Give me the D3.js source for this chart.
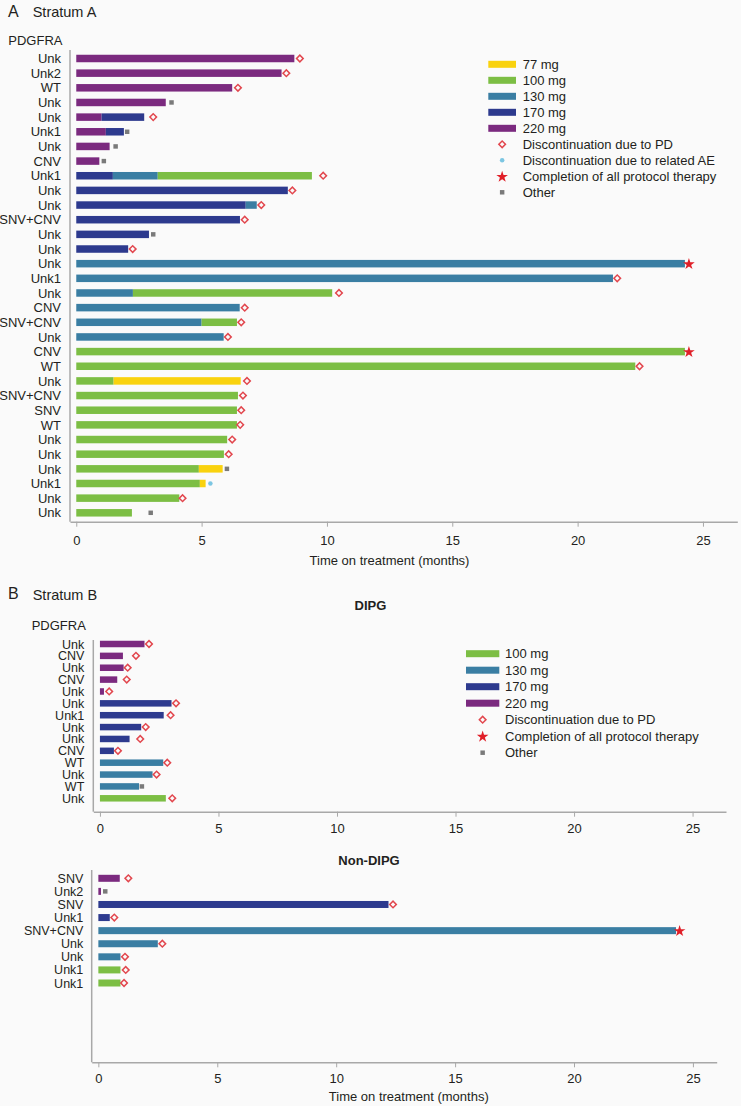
<!DOCTYPE html>
<html>
<head>
<meta charset="utf-8">
<script src="https://cdn.jsdelivr.net/npm/d3@7"></script>
<style>
  html, body { margin: 0; padding: 0; background: #fafafa; }
  svg { display: block; font-family: "Liberation Sans", Arial, Helvetica, sans-serif; }
</style>
</head>
<body>
<svg id="chart" width="741" height="1106"></svg>
<script>
// ---------------- DATA ----------------
const doseLevelsA = ["77 mg", "100 mg", "130 mg", "170 mg", "220 mg"];
const doseLevelsB = ["100 mg", "130 mg", "170 mg", "220 mg"];
const doseColors = ["#f9d20e", "#7cbe44", "#3a7ea3", "#2d3a8e", "#7b2a7f"];
const eventNamesA = ["Discontinuation due to PD", "Discontinuation due to related AE", "Completion of all protocol therapy", "Other"];
const eventNamesB = ["Discontinuation due to PD", "Completion of all protocol therapy", "Other"];
const eventKeysA = ["PD", "AE", "Complete", "Other"];
const eventKeysB = ["PD", "Complete", "Other"];
const xTicks = [0, 5, 10, 15, 20, 25];

// Stratum A: PDGFRA status per patient
const labelsA = ["Unk","Unk2","WT","Unk","Unk","Unk1","Unk","CNV","Unk1","Unk","Unk","SNV+CNV","Unk","Unk","Unk","Unk1",
                 "Unk","CNV","SNV+CNV","Unk","CNV","WT","Unk","SNV+CNV","SNV","WT","Unk","Unk","Unk","Unk1","Unk","Unk"];
// dose segments: [dose, cumulative end time (months)]
const segmentsA = [
  [["220 mg", 8.70]],
  [["220 mg", 8.19]],
  [["220 mg", 6.22]],
  [["220 mg", 3.57]],
  [["220 mg", 1.01], ["170 mg", 2.71]],
  [["220 mg", 1.18], ["170 mg", 1.90]],
  [["220 mg", 1.33]],
  [["220 mg", 0.92]],
  [["170 mg", 1.46], ["130 mg", 3.25], ["100 mg", 9.40]],
  [["170 mg", 8.44]],
  [["170 mg", 6.76], ["130 mg", 7.20]],
  [["170 mg", 6.53]],
  [["170 mg", 2.90]],
  [["170 mg", 2.07]],
  [["130 mg", 24.28]],
  [["130 mg", 21.41]],
  [["130 mg", 2.26], ["100 mg", 10.21]],
  [["130 mg", 6.52]],
  [["130 mg", 5.00], ["100 mg", 6.41]],
  [["130 mg", 5.88]],
  [["100 mg", 24.28]],
  [["100 mg", 22.30]],
  [["100 mg", 1.49], ["77 mg", 6.56]],
  [["100 mg", 6.45]],
  [["100 mg", 6.41]],
  [["100 mg", 6.41]],
  [["100 mg", 6.02]],
  [["100 mg", 5.89]],
  [["100 mg", 4.89], ["77 mg", 5.84]],
  [["100 mg", 4.93], ["77 mg", 5.16]],
  [["100 mg", 4.11]],
  [["100 mg", 2.22]]
];
const eventTypeA = ["PD","PD","PD","Other","PD","Other","Other","Other","PD","PD","PD","PD","Other","PD","Complete","PD",
                    "PD","PD","PD","PD","Complete","PD","PD","PD","PD","PD","PD","PD","Other","AE","PD","Other"];
const eventTimeA = [8.92, 8.38, 6.45, 3.80, 3.07, 2.03, 1.57, 1.10, 9.85, 8.62, 7.38, 6.72, 3.07, 2.25, 24.44, 21.58,
                    10.48, 6.72, 6.58, 6.05, 24.44, 22.47, 6.81, 6.65, 6.58, 6.54, 6.22, 6.08, 6.01, 5.35, 4.24, 2.97];

// Stratum B, DIPG
const labelsDIPG = ["Unk","CNV","Unk","CNV","Unk","Unk","Unk1","Unk","Unk","CNV","WT","Unk","WT","Unk"];
const segmentsDIPG = [
  [["220 mg", 1.88]], [["220 mg", 0.97]], [["220 mg", 1.00]], [["220 mg", 0.73]], [["220 mg", 0.17]],
  [["170 mg", 3.02]], [["170 mg", 2.69]], [["170 mg", 1.74]], [["170 mg", 1.25]], [["170 mg", 0.59]],
  [["130 mg", 2.67]], [["130 mg", 2.22]], [["130 mg", 1.65]], [["100 mg", 2.78]]
];
const eventTypeDIPG = ["PD","PD","PD","PD","PD","PD","PD","PD","PD","PD","PD","PD","Other","PD"];
const eventTimeDIPG = [2.07, 1.52, 1.17, 1.13, 0.39, 3.21, 2.98, 1.93, 1.70, 0.76, 2.84, 2.39, 1.77, 3.05];

// Stratum B, Non-DIPG
const labelsNon = ["SNV","Unk2","SNV","Unk1","SNV+CNV","Unk","Unk","Unk1","Unk1"];
const segmentsNon = [
  [["220 mg", 0.90]], [["220 mg", 0.11]], [["170 mg", 12.20]], [["170 mg", 0.48]], [["130 mg", 24.29]],
  [["130 mg", 2.50]], [["130 mg", 0.93]], [["100 mg", 0.93]], [["100 mg", 0.93]]
];
const eventTypeNon = ["PD","Other","PD","PD","Complete","PD","PD","PD","PD"];
const eventTimeNon = [1.26, 0.29, 12.39, 0.67, 24.44, 2.69, 1.12, 1.15, 1.08];

// ---------------- DRAWING ----------------
const svg = d3.select("#chart");
const FONT_COLOR = "#231f20";
const AXIS_COLOR = "#a8a8a8";

const color = d3.scaleOrdinal().domain(doseLevelsA).range(doseColors);

function drawMarker(g, type, cx, cy) {
  if (type === "PD") {
    g.append("path")
      .attr("d", d3.symbol(d3.symbolSquare, 22)())
      .attr("transform", `translate(${cx},${cy}) rotate(45)`)
      .attr("fill", "#fafafa").attr("stroke", "#e2474e").attr("stroke-width", 1.5);
  } else if (type === "AE") {
    g.append("path")
      .attr("d", d3.symbol(d3.symbolCircle, 16)())
      .attr("transform", `translate(${cx},${cy})`)
      .attr("fill", "#7cc6e2");
  } else if (type === "Complete") {
    g.append("path")
      .attr("d", d3.symbol(d3.symbolStar, 42)())
      .attr("transform", `translate(${cx},${cy + 0.5})`)
      .attr("fill", "#e01f28");
  } else if (type === "Other") {
    g.append("path")
      .attr("d", d3.symbol(d3.symbolSquare, 20)())
      .attr("transform", `translate(${cx},${cy})`)
      .attr("fill", "#7a7a7a");
  }
}

function drawSwimmer(cfg) {
  const g = svg.append("g");
  const n = cfg.labels.length;
  const x = d3.scaleLinear().domain(cfg.xDomain).range(cfg.xRange);
  const y = d3.scaleLinear().domain([0, n - 1]).range([cfg.yFirst, cfg.yLast]);

  // bars
  cfg.segments.forEach((segs, i) => {
    let start = 0;
    segs.forEach(([dose, end]) => {
      g.append("rect")
        .attr("x", x(start))
        .attr("y", y(i) - cfg.barH / 2)
        .attr("width", Math.max(0, x(end) - x(start)))
        .attr("height", cfg.barH)
        .attr("fill", color(dose));
      start = end;
    });
  });
  // event markers
  cfg.eventType.forEach((t, i) => drawMarker(g, t, x(cfg.eventTime[i]), y(i)));

  // y axis (labels)
  const yAxis = d3.axisLeft(y)
    .tickValues(d3.range(n))
    .tickFormat(i => cfg.labels[i])
    .tickSize(0)
    .tickPadding(cfg.xRange[0] - cfg.labelX);
  const yg = g.append("g").attr("transform", `translate(${cfg.xRange[0]},0)`).call(yAxis);
  yg.select(".domain").remove();
  yg.selectAll("text")
    .attr("font-size", cfg.labelSize)
    .attr("fill", FONT_COLOR)
    .attr("font-family", "Liberation Sans, Arial, sans-serif");
  // vertical axis line
  g.append("line")
    .attr("x1", cfg.xRange[0]).attr("x2", cfg.xRange[0])
    .attr("y1", cfg.yTop).attr("y2", cfg.axisY)
    .attr("stroke", AXIS_COLOR).attr("stroke-width", 1.5);

  // x axis
  const xAxis = d3.axisBottom(x).tickValues(xTicks).tickSize(5).tickSizeOuter(0).tickPadding(cfg.tickPad);
  const xg = g.append("g").attr("transform", `translate(0,${cfg.axisY})`).call(xAxis);
  xg.select(".domain").attr("stroke", AXIS_COLOR).attr("stroke-width", 1.5);
  xg.selectAll(".tick line").attr("stroke", AXIS_COLOR).attr("stroke-width", 1);
  xg.selectAll("text").attr("font-size", 13).attr("fill", FONT_COLOR)
    .attr("font-family", "Liberation Sans, Arial, sans-serif");
  return g;
}

function drawLegend(cfg) {
  const g = svg.append("g");
  cfg.doses.forEach((d, i) => {
    const yy = cfg.y0 + i * cfg.step;
    g.append("rect").attr("x", cfg.swX).attr("y", yy - 3.5).attr("width", cfg.swW).attr("height", 7).attr("fill", color(d));
    g.append("text").attr("x", cfg.textX).attr("y", yy).attr("dy", "0.36em")
      .attr("font-size", 13).attr("fill", FONT_COLOR).text(d);
  });
  cfg.events.forEach((e, j) => {
    const yy = cfg.y0 + (cfg.doses.length + j) * cfg.step;
    drawMarker(g, cfg.eventKeys[j], cfg.swX + cfg.swW / 2, yy);
    g.append("text").attr("x", cfg.textX).attr("y", yy).attr("dy", "0.36em")
      .attr("font-size", 13).attr("fill", FONT_COLOR).text(e);
  });
}

// ---- Panel A ----
svg.append("text").attr("x", 8).attr("y", 16.5).attr("font-size", 16).attr("fill", FONT_COLOR).text("A");
svg.append("text").attr("x", 32.7).attr("y", 17).attr("font-size", 14.5).attr("fill", FONT_COLOR).text("Stratum A");
svg.append("text").attr("x", 8.3).attr("y", 45.3).attr("font-size", 13).attr("fill", FONT_COLOR).text("PDGFRA");

drawSwimmer({
  labels: labelsA, segments: segmentsA, eventType: eventTypeA, eventTime: eventTimeA,
  xDomain: [-0.25, 26.37], xRange: [70, 737.3],
  yFirst: 58.5, yLast: 512.8, yTop: 50, axisY: 521.7,
  barH: 7.5, labelX: 61, labelSize: 13, tickPad: 9.5
});
svg.append("text").attr("x", 389.5).attr("y", 565).attr("text-anchor", "middle")
  .attr("font-size", 13).attr("fill", FONT_COLOR).text("Time on treatment (months)");

drawLegend({
  doses: doseLevelsA, events: eventNamesA, eventKeys: eventKeysA,
  y0: 64.3, step: 16, swX: 488.3, swW: 27.7, textX: 522.7
});

// ---- Panel B ----
svg.append("text").attr("x", 8).attr("y", 599.3).attr("font-size", 16).attr("fill", FONT_COLOR).text("B");
svg.append("text").attr("x", 32.7).attr("y", 599.5).attr("font-size", 14.5).attr("fill", FONT_COLOR).text("Stratum B");
svg.append("text").attr("x", 31.7).attr("y", 629.6).attr("font-size", 13).attr("fill", FONT_COLOR).text("PDGFRA");
svg.append("text").attr("x", 370.5).attr("y", 609.5).attr("text-anchor", "middle").attr("font-weight", "bold")
  .attr("font-size", 13).attr("fill", FONT_COLOR).text("DIPG");

drawSwimmer({
  labels: labelsDIPG, segments: segmentsDIPG, eventType: eventTypeDIPG, eventTime: eventTimeDIPG,
  xDomain: [-0.28, 26.41], xRange: [93.3, 726],
  yFirst: 644, yLast: 798.3, yTop: 640, axisY: 811.7,
  barH: 6.5, labelX: 84.3, labelSize: 12.5, tickPad: 6.6
});

drawLegend({
  doses: doseLevelsB, events: eventNamesB, eventKeys: eventKeysB,
  y0: 653.7, step: 16.5, swX: 466, swW: 33.3, textX: 505
});

svg.append("text").attr("x", 369).attr("y", 865).attr("text-anchor", "middle").attr("font-weight", "bold")
  .attr("font-size", 13).attr("fill", FONT_COLOR).text("Non-DIPG");

drawSwimmer({
  labels: labelsNon, segments: segmentsNon, eventType: eventTypeNon, eventTime: eventTimeNon,
  xDomain: [-0.28, 26.0], xRange: [91.7, 716.7],
  yFirst: 878.3, yLast: 983, yTop: 870, axisY: 1062.3,
  barH: 7, labelX: 83.3, labelSize: 12.5, tickPad: 6
});
svg.append("text").attr("x", 408.8).attr("y", 1101).attr("text-anchor", "middle")
  .attr("font-size", 13).attr("fill", FONT_COLOR).text("Time on treatment (months)");
</script>
</body>
</html>
